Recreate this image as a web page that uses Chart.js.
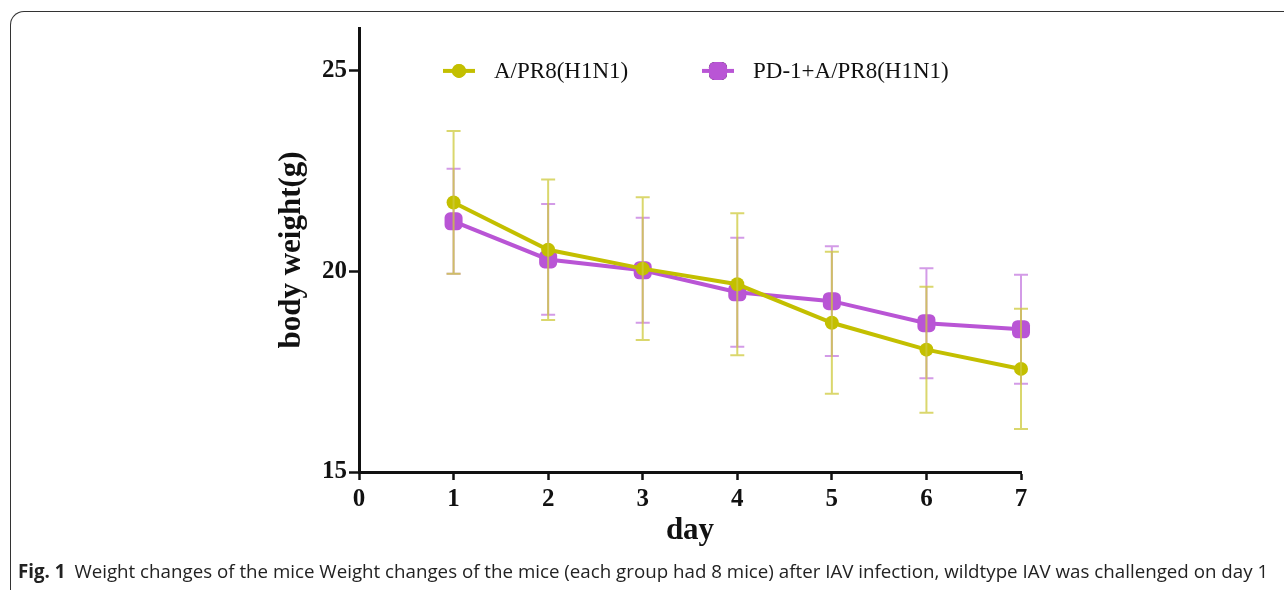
<!DOCTYPE html>
<html>
<head>
<meta charset="utf-8">
<script src="https://cdn.jsdelivr.net/npm/chart.js@4.4.0/dist/chart.umd.min.js"></script>
<style>
  html, body { margin: 0; padding: 0; background: #fff; overflow: hidden; }
  #wrap { position: relative; width: 1284px; height: 590px; }
  #frame {
    position: absolute; left: 10px; top: 11px; width: 1400px; height: 700px;
    border-top: 1px solid #333; border-left: 1px solid #333;
    border-top-left-radius: 14px;
  }
  #chart { position: absolute; left: 0; top: 0; }
  #caption {
    position: absolute; left: 18px; top: 558px; white-space: nowrap;
    font-family: "Open Sans", sans-serif; font-size: 19px; color: #222;
    transform-origin: 0 0;
  }
  #caption b { font-weight: 700; margin-right: 9px; }
</style>
</head>
<body>
<div id="wrap">
  <div id="frame"></div>
  <canvas id="chart" width="1284" height="590"></canvas>
  <div id="caption"><b>Fig. 1</b>Weight changes of the mice Weight changes of the mice (each group had 8 mice) after IAV infection, wildtype IAV was challenged on day 1</div>
</div>
<script>
// dados
const days = [1, 2, 3, 4, 5, 6, 7];
const yTicks = [15, 20, 25];
const pr8Label = 'A/PR8(H1N1)';
const pr8Mean = [21.72, 20.54, 20.07, 19.68, 18.72, 18.05, 17.57];
const pr8Sd = [1.78, 1.75, 1.78, 1.77, 1.77, 1.57, 1.50];
const pd1Label = 'PD-1+A/PR8(H1N1)';
const pd1Mean = [21.25, 20.30, 20.03, 19.48, 19.26, 18.71, 18.56];
const pd1Sd = [1.31, 1.38, 1.31, 1.36, 1.37, 1.37, 1.36];

const yellow = '#c3bf00';
const purple = '#b955d5';

// desenha as barras de erro (média ± DP) de um dataset
function drawBars(chart, i) {
  const { ctx, scales: { y } } = chart;
  const ds = chart.data.datasets[i];
  const meta = chart.getDatasetMeta(i);
  ctx.save();
  ctx.strokeStyle = ds.errColor;
  ctx.lineWidth = 2;
  meta.data.forEach((pt, j) => {
    const v = ds.data[j].y;
    const top = y.getPixelForValue(v + ds.sd[j]);
    const bot = y.getPixelForValue(v - ds.sd[j]);
    ctx.beginPath();
    ctx.moveTo(pt.x, top); ctx.lineTo(pt.x, bot);
    ctx.moveTo(pt.x - 7, top); ctx.lineTo(pt.x + 7, top);
    ctx.moveTo(pt.x - 7, bot); ctx.lineTo(pt.x + 7, bot);
    ctx.stroke();
  });
  ctx.restore();
}

// roxo atrás das linhas, amarelo por cima
const errorBars = {
  id: 'errorBars',
  beforeDatasetsDraw(chart) { drawBars(chart, 1); },
  afterDatasetsDraw(chart) { drawBars(chart, 0); }
};

// legenda com linha + marcador
const lineLegend = {
  id: 'lineLegend',
  afterDraw(chart) {
    const { ctx, chartArea } = chart;
    const y = chart.scales.y.getPixelForValue(25);
    const items = [
      { ds: chart.data.datasets[0], x: chartArea.left + 100 },
      { ds: chart.data.datasets[1], x: chartArea.left + 359 }
    ];
    ctx.save();
    items.forEach(({ ds, x }) => {
      ctx.strokeStyle = ds.borderColor;
      ctx.lineWidth = 4;
      ctx.beginPath();
      ctx.moveTo(x - 16, y); ctx.lineTo(x + 16, y);
      ctx.stroke();
      Chart.helpers.drawPoint(ctx, {
        pointStyle: ds.pointStyle, radius: ds.pointRadius, borderWidth: 0
      }, x, y);
      ctx.fillStyle = ds.pointBackgroundColor;
      ctx.fill();
      ctx.fillStyle = '#111';
      ctx.font = '23px "Liberation Serif", serif';
      ctx.textBaseline = 'middle';
      ctx.fillText(ds.label, x + 35, y + 1);
    });
    ctx.restore();
  }
};

const tickFont = { family: '"Liberation Serif", serif', size: 25, weight: 'bold' };
const titleFont = { family: '"Liberation Serif", serif', size: 31, weight: 'bold' };

new Chart(document.getElementById('chart'), {
  type: 'line',
  data: {
    datasets: [
      {
        label: pr8Label,
        data: days.map((d, i) => ({ x: d, y: pr8Mean[i] })),
        sd: pr8Sd,
        borderColor: yellow,
        backgroundColor: yellow,
        pointBackgroundColor: yellow,
        pointBorderColor: yellow,
        errColor: 'rgba(205, 201, 60, 0.75)',
        borderWidth: 4,
        pointStyle: 'circle',
        pointRadius: 7,
        pointBorderWidth: 0,
        tension: 0,
        clip: false
      },
      {
        label: pd1Label,
        data: days.map((d, i) => ({ x: d, y: pd1Mean[i] })),
        sd: pd1Sd,
        borderColor: purple,
        backgroundColor: purple,
        pointBackgroundColor: purple,
        pointBorderColor: purple,
        errColor: 'rgba(200, 130, 225, 0.8)',
        borderWidth: 4,
        pointStyle: 'rectRounded',
        pointRadius: 10.5,
        pointBorderWidth: 0,
        tension: 0,
        clip: false
      }
    ]
  },
  options: {
    responsive: false,
    animation: false,
    events: [],
    layout: { padding: { left: 239, right: 263, top: 28, bottom: 38 } },
    plugins: {
      legend: { display: false },
      tooltip: { enabled: false }
    },
    scales: {
      x: {
        type: 'linear',
        min: 0,
        max: 7,
        ticks: { stepSize: 1, color: '#111', font: tickFont, padding: 5, maxRotation: 0 },
        grid: { drawOnChartArea: false, drawTicks: true, tickLength: 8, tickWidth: 2.5, tickColor: '#111' },
        border: { color: '#111', width: 3 },
        title: { display: true, text: 'day', color: '#111', font: titleFont, padding: { top: 0, bottom: 2 } },
        afterFit(scale) { scale.height = 80; }
      },
      y: {
        min: 15,
        max: 26.07,
        afterBuildTicks(scale) { scale.ticks = yTicks.map(v => ({ value: v })); },
        ticks: { color: '#111', font: tickFont, padding: 2 },
        grid: { drawOnChartArea: false, drawTicks: true, tickLength: 10, tickWidth: 2.5, tickColor: '#111' },
        border: { color: '#111', width: 3 },
        title: { display: true, text: 'body weight(g)', color: '#111', font: titleFont, padding: { top: 34, bottom: 0 } },
        afterFit(scale) { scale.width = 120; }
      }
    }
  },
  plugins: [errorBars, lineLegend]
});

// ajustar legenda da figura à largura
const cap = document.getElementById('caption');
cap.style.transform = 'scaleX(' + (1250 / cap.scrollWidth) + ')';
</script>
</body>
</html>
